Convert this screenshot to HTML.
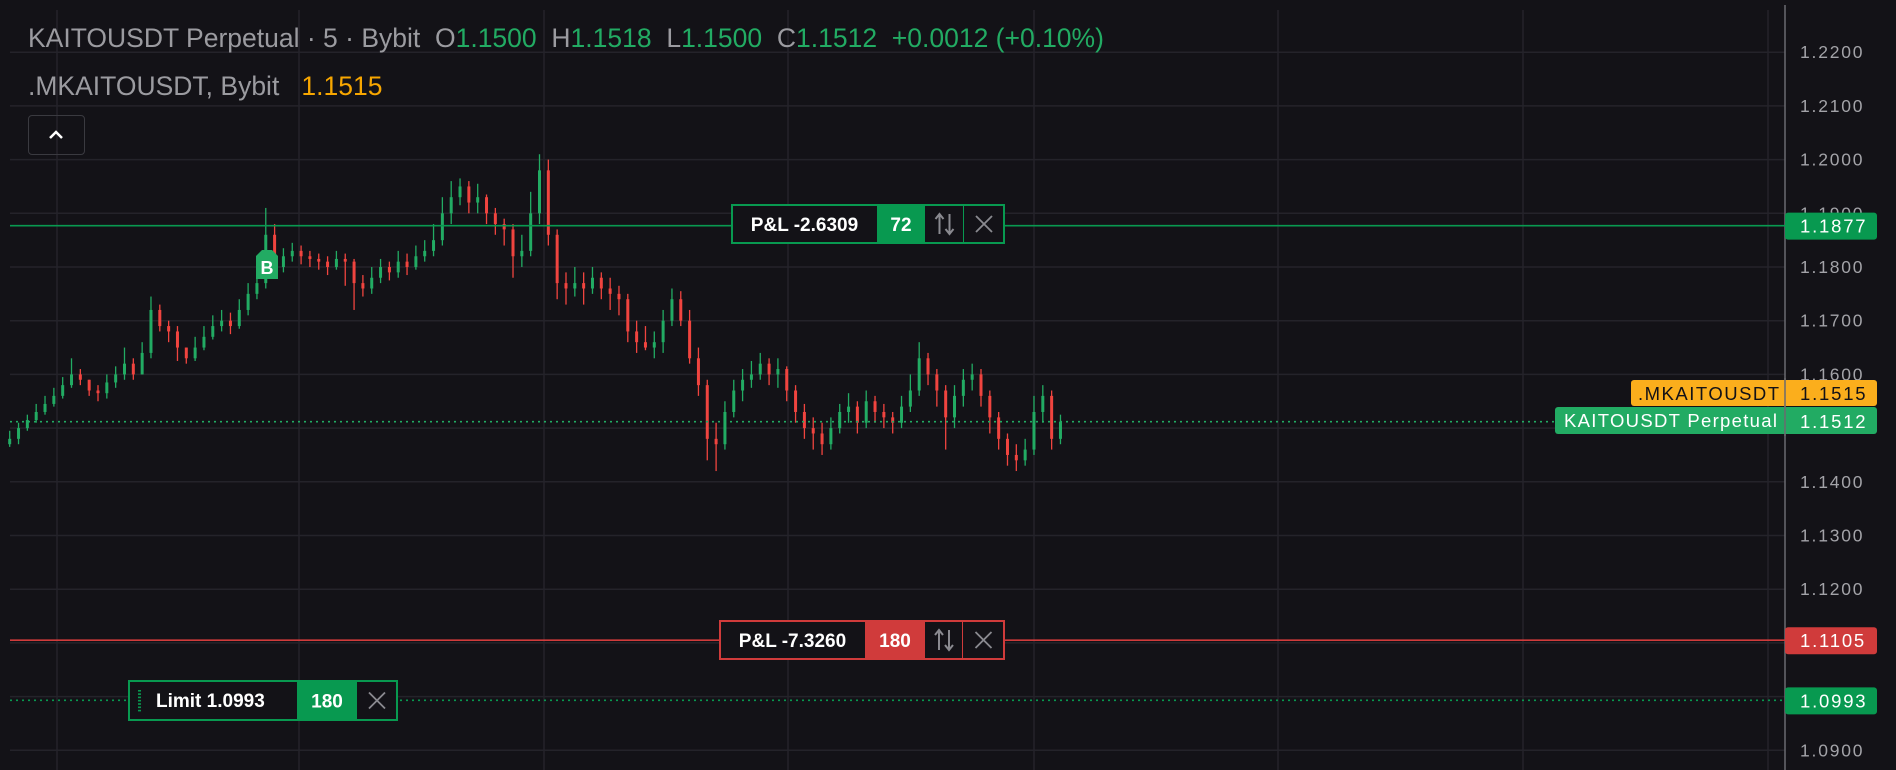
<!DOCTYPE html>
<html><head><meta charset="utf-8"><style>
html,body{margin:0;padding:0;background:#131217;width:1896px;height:770px;overflow:hidden}
svg{display:block}
text{font-family:"Liberation Sans",sans-serif}
</style></head><body>
<svg id="chart" width="1896" height="770" xmlns="http://www.w3.org/2000/svg">
<rect x="0" y="0" width="1896" height="770" fill="#131217"/>
<g id="grid"></g>
<g id="candles"></g>
<g id="overlay"></g>
</svg>
<script>
const priceTicks=[1.22,1.21,1.20,1.19,1.18,1.17,1.16,1.15,1.14,1.13,1.12,1.11,1.10,1.09];
const closes=[1.1480,1.1500,1.1515,1.1530,1.1545,1.1560,1.1580,1.1600,1.1590,1.1570,
1.1565,1.1585,1.1600,1.1620,1.1600,1.1640,1.1720,1.1690,1.1680,1.1650,
1.1630,1.1650,1.1670,1.1690,1.1700,1.1690,1.1720,1.1750,1.1770,1.1860,
1.1800,1.1820,1.1830,1.1820,1.1815,1.1810,1.1800,1.1815,1.1810,1.1770,
1.1760,1.1780,1.1800,1.1790,1.1810,1.1800,1.1820,1.1830,1.1850,1.1900,
1.1930,1.1950,1.1920,1.1930,1.1900,1.1880,1.1870,1.1820,1.1830,1.1900,
1.1980,1.1860,1.1770,1.1760,1.1770,1.1760,1.1780,1.1760,1.1750,1.1740,
1.1680,1.1660,1.1650,1.1660,1.1700,1.1740,1.1700,1.1630,1.1580,1.1480,
1.1470,1.1530,1.1570,1.1590,1.1600,1.1620,1.1600,1.1610,1.1570,1.1530,
1.1500,1.1490,1.1470,1.1500,1.1530,1.1540,1.1510,1.1550,1.1530,1.1520,
1.1510,1.1540,1.1570,1.1630,1.1600,1.1570,1.1520,1.1560,1.1590,1.1600,
1.1560,1.1520,1.1480,1.1450,1.1440,1.1460,1.1530,1.1560,1.1480,1.1512];
const highs=[1.1495,1.1510,1.1525,1.1545,1.1560,1.1575,1.1595,1.1630,1.1610,1.1590,
1.1580,1.1600,1.1615,1.1650,1.1630,1.1660,1.1745,1.1730,1.1700,1.1690,
1.1650,1.1670,1.1690,1.1710,1.1720,1.1715,1.1740,1.1770,1.1790,1.1910,
1.1880,1.1835,1.1845,1.1840,1.1830,1.1825,1.1820,1.1830,1.1825,1.1815,
1.1785,1.1800,1.1815,1.1810,1.1830,1.1825,1.1840,1.1850,1.1880,1.1930,
1.1960,1.1965,1.1960,1.1955,1.1935,1.1910,1.1890,1.1880,1.1860,1.1940,
1.2010,1.2000,1.1870,1.1790,1.1800,1.1790,1.1800,1.1790,1.1780,1.1765,
1.1750,1.1700,1.1690,1.1680,1.1720,1.1760,1.1755,1.1720,1.1650,1.1590,
1.1510,1.1550,1.1590,1.1610,1.1625,1.1640,1.1630,1.1630,1.1615,1.1580,
1.1545,1.1520,1.1510,1.1520,1.1545,1.1565,1.1550,1.1570,1.1560,1.1545,
1.1530,1.1560,1.1600,1.1660,1.1640,1.1610,1.1580,1.1580,1.1610,1.1620,
1.1610,1.1570,1.1530,1.1490,1.1470,1.1480,1.1560,1.1580,1.1570,1.1525];
const lows=[1.1465,1.1470,1.1495,1.1510,1.1525,1.1540,1.1555,1.1575,1.1580,1.1560,
1.1550,1.1555,1.1575,1.1590,1.1590,1.1600,1.1630,1.1680,1.1660,1.1625,
1.1620,1.1625,1.1645,1.1665,1.1680,1.1675,1.1685,1.1710,1.1740,1.1760,
1.1780,1.1790,1.1810,1.1805,1.1800,1.1795,1.1785,1.1795,1.1765,1.1720,
1.1745,1.1750,1.1770,1.1775,1.1780,1.1785,1.1795,1.1810,1.1820,1.1840,
1.1880,1.1915,1.1900,1.1900,1.1880,1.1860,1.1840,1.1780,1.1800,1.1820,
1.1880,1.1840,1.1740,1.1730,1.1745,1.1730,1.1750,1.1740,1.1720,1.1710,
1.1660,1.1640,1.1645,1.1630,1.1640,1.1690,1.1690,1.1620,1.1560,1.1440,
1.1420,1.1460,1.1520,1.1550,1.1575,1.1590,1.1580,1.1575,1.1550,1.1510,
1.1480,1.1460,1.1450,1.1460,1.1490,1.1510,1.1490,1.1500,1.1510,1.1500,
1.1490,1.1500,1.1530,1.1560,1.1580,1.1540,1.1460,1.1500,1.1540,1.1570,
1.1540,1.1490,1.1460,1.1430,1.1420,1.1430,1.1450,1.1510,1.1460,1.1470];
const firstOpen=1.1470;
const positionPrice=1.1877, stopPrice=1.1105, limitPrice=1.0993, lastPrice=1.1512, markPrice=1.1515;

const NS="http://www.w3.org/2000/svg";
function yS(p){return 159.6+(1.2-p)*5370;}
function xS(i){return 9.7+8.83*i;}
function mk(tag,attrs,parent,txt){const e=document.createElementNS(NS,tag);for(const k in attrs)e.setAttribute(k,attrs[k]);if(txt!==undefined)e.textContent=txt;parent.appendChild(e);return e;}
const grid=document.getElementById('grid'),cg=document.getElementById('candles'),ov=document.getElementById('overlay');
[57,299,544,788,1034,1278,1523,1768].forEach(x=>{const l=mk('line',{x1:x,x2:x,y1:10,y2:770,stroke:'#24232a','stroke-width':1.5},grid);

});
priceTicks.forEach(p=>{const y=yS(p);
const l=mk('line',{x1:10,x2:1785,y1:y,y2:y,stroke:'#24232a','stroke-width':1.5},grid);


const t=mk('text',{x:1800,y:y+6,fill:'#a3a3a8','font-size':17.5,'letter-spacing':'1.8'},grid,p.toFixed(4));

});
const ax=mk('line',{x1:1785,x2:1785,y1:5,y2:770,stroke:'#6a6a70','stroke-width':1.5},grid);


closes.forEach((c,i)=>{const o=i===0?firstOpen:closes[i-1];const up=c>=o;const col=up?'#22ab63':'#f0443f';const x=xS(i);
const w=mk('line',{x1:x,x2:x,y1:yS(highs[i]),y2:yS(lows[i]),stroke:col,'stroke-width':1.3},cg);


const top=yS(Math.max(o,c)),bot=yS(Math.min(o,c));
const b=mk('rect',{x:x-1.5,y:top,width:3,height:Math.max(1,bot-top),fill:col},cg);

});

function hline(p,col,dash,name,x2){const y=yS(p);const l=mk('line',{x1:10,x2:x2||1785,y1:y,y2:y,stroke:col,'stroke-width':1.6},ov);if(dash)l.setAttribute('stroke-dasharray',dash);

}
hline(positionPrice,'#089950',null,'position-line');
hline(stopPrice,'#d03b3b',null,'stop-line');
hline(limitPrice,'#089950','2 4','limit-order-line');
hline(lastPrice,'#22ab63','2 4','last-price-line',1555);

function axisLabel(p,col,txt,tcol,name){const y=yS(p);const r=mk('rect',{x:1785,y:y-13,width:92,height:27,rx:3,fill:col},ov);


mk('text',{x:1800,y:y+7,fill:tcol,'font-size':18.5,'letter-spacing':'1.8'},ov,txt);}
axisLabel(positionPrice,'#089950','1.1877','#fff','position-price-label');
axisLabel(stopPrice,'#d03b3b','1.1105','#fff','stop-price-label');
axisLabel(limitPrice,'#089950','1.0993','#fff','limit-price-label');
{const r=mk('rect',{x:1631,y:380,width:246,height:26,rx:3,fill:'#fbae1c'},ov);


mk('text',{x:1638,y:400,fill:'#131217','font-size':18.5,'letter-spacing':'1.5'},ov,'.MKAITOUSDT');
mk('text',{x:1800,y:400,fill:'#131217','font-size':18.5,'letter-spacing':'1.8'},ov,markPrice.toFixed(4));
const r2=mk('rect',{x:1555,y:407,width:322,height:27,rx:3,fill:'#22ab63'},ov);


mk('text',{x:1564,y:427,fill:'#fff','font-size':18.5,'letter-spacing':'1.3'},ov,'KAITOUSDT Perpetual');
mk('text',{x:1800,y:428,fill:'#fff','font-size':18.5,'letter-spacing':'1.8'},ov,lastPrice.toFixed(4));
mk('line',{x1:1785,x2:1785,y1:378,y2:436,stroke:'#6a6a70','stroke-width':1.5},ov);}

function orderBox(name,x0,y0,h,border,segs){const g=mk('g',{},ov);


let x=x0;segs.forEach(s=>{mk('rect',{x:x,y:y0,width:s.w,height:h,fill:s.bg},g);
if(s.t)mk('text',{x:x+s.w/2,y:y0+h/2+7,fill:'#fff','font-size':19,'font-weight':'bold','text-anchor':'middle'},g,s.t);
if(s.icon==='arrows'){const cx=x+s.w/2,cy=y0+h/2;mk('path',{d:`M${cx-5} ${cy+10}V${cy-9}M${cx-9} ${cy-5}L${cx-5} ${cy-10}L${cx-1} ${cy-5}M${cx+5} ${cy-10}V${cy+9}M${cx+1} ${cy+5}L${cx+5} ${cy+10}L${cx+9} ${cy+5}`,stroke:'#8a8a90','stroke-width':2,fill:'none'},g);}
if(s.icon==='x'){const cx=x+s.w/2,cy=y0+h/2;mk('path',{d:`M${cx-8} ${cy-8}L${cx+8} ${cy+8}M${cx+8} ${cy-8}L${cx-8} ${cy+8}`,stroke:'#8a8a90','stroke-width':1.8,fill:'none'},g);}
if(s.div)mk('line',{x1:x+s.w,x2:x+s.w,y1:y0,y2:y0+h,stroke:border,'stroke-width':2},g);
x+=s.w;});
mk('rect',{x:x0,y:y0,width:x-x0,height:h,fill:'none',stroke:border,'stroke-width':2},g);
return g;}
orderBox('position-pnl-box',732,205,38,'#089950',[{w:145,bg:'#131217',t:'P&L -2.6309'},{w:48,bg:'#089950',t:'72'},{w:39,bg:'#131217',icon:'arrows',div:true},{w:40,bg:'#131217',icon:'x'}]);
orderBox('stop-pnl-box',720,621,38,'#d03b3b',[{w:145,bg:'#131217',t:'P&L -7.3260'},{w:60,bg:'#d03b3b',t:'180'},{w:38,bg:'#131217',icon:'arrows',div:true},{w:41,bg:'#131217',icon:'x'}]);
{const g=orderBox('limit-order-box',129,681,39,'#089950',[{w:168,bg:'#131217'},{w:60,bg:'#089950',t:'180'},{w:40,bg:'#131217',icon:'x'}]);
mk('text',{x:156,y:707,fill:'#fff','font-size':19,'font-weight':'bold'},g,'Limit 1.0993');
for(let k=0;k<7;k++)mk('rect',{x:138,y:690+k*3.3,width:3,height:1.6,fill:'#089950'},g);}
{const g=mk('g',{},ov);


mk('path',{d:'M256 256 L262 250 L272 250 L278 256 L278 279 L256 279 Z',fill:'#22ab63'},g);
mk('text',{x:267,y:274,fill:'#fff','font-size':18,'font-weight':'bold','text-anchor':'middle','font-family':'Liberation Serif,serif'},g,'B');}
</script>
<div style="position:absolute;left:0;top:0;width:1300px;pointer-events:none;font-family:'Liberation Sans',sans-serif">
<div style="position:absolute;left:28px;top:23px;font-size:26.5px;white-space:nowrap;color:#9b9ba0">KAITOUSDT Perpetual · 5 · Bybit&nbsp;&nbsp;O<span style="color:#22ab63">1.1500</span>&nbsp;&nbsp;H<span style="color:#22ab63">1.1518</span>&nbsp;&nbsp;L<span style="color:#22ab63">1.1500</span>&nbsp;&nbsp;C<span style="color:#22ab63">1.1512&nbsp;&nbsp;+0.0012 (+0.10%)</span></div>
<div style="position:absolute;left:28px;top:71px;font-size:26.5px;white-space:nowrap;color:#9b9ba0">.MKAITOUSDT, Bybit&nbsp;&nbsp;&nbsp;<span style="color:#f7a600">1.1515</span></div>
<div style="position:absolute;left:28px;top:115px;width:57px;height:40px;border:1.5px solid #3a3a40;border-radius:4px;box-sizing:border-box;pointer-events:auto">
<svg width="54" height="37" style="position:absolute;left:0;top:0"><path d="M21 22 L27 16 L33 22" stroke="#fff" stroke-width="2.5" fill="none"/></svg></div>
</div>
</body></html>
